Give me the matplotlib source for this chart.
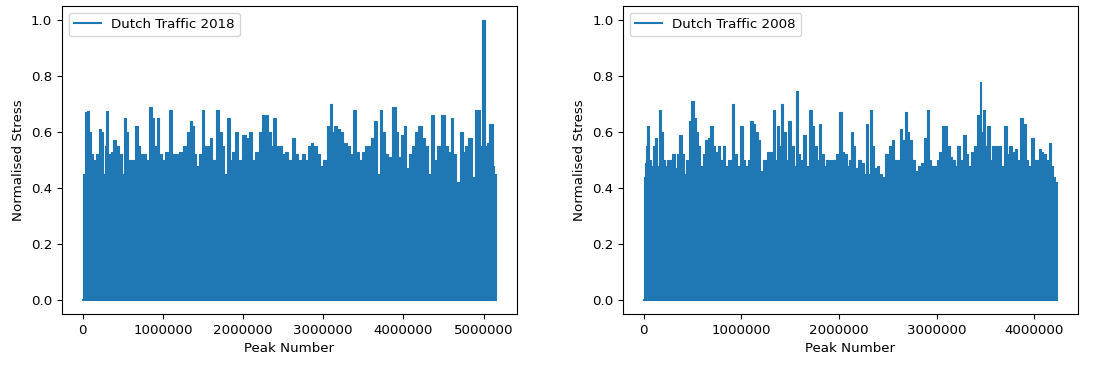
import numpy as np
import matplotlib
matplotlib.use("Agg")
import matplotlib.pyplot as plt

plt.rcParams["font.family"] = ["DejaVu Sans"]
plt.rcParams["font.size"] = 9.6

# Peak-envelope of the normalised stress history, peak number in millions
peaks_2018 = [0.00, 0.017, 0.05, 0.066, 0.091, 0.108, 0.141, 0.182, 0.216, 0.236,
              0.265, 0.286, 0.307, 0.328, 0.369, 0.398, 0.431, 0.464, 0.506, 0.522,
              0.547, 0.576, 0.638, 0.672, 0.701, 0.730, 0.771, 0.804, 0.846, 0.879,
              0.908, 0.937, 0.970, 1.012, 1.053, 1.103, 1.128, 1.177, 1.219, 1.281,
              1.323, 1.352, 1.376, 1.405, 1.434, 1.468, 1.501, 1.530, 1.584, 1.600,
              1.634, 1.683, 1.716, 1.750, 1.779, 1.820, 1.849, 1.882, 1.924, 1.957,
              2.027, 2.056, 2.098, 2.131, 2.172, 2.214, 2.255, 2.297, 2.330, 2.359,
              2.400, 2.421, 2.463, 2.504, 2.546, 2.587, 2.629, 2.670, 2.711, 2.753,
              2.794, 2.836, 2.857, 2.898, 2.940, 2.981, 3.022, 3.064, 3.097, 3.126,
              3.147, 3.188, 3.230, 3.271, 3.313, 3.354, 3.396, 3.425, 3.458, 3.499,
              3.541, 3.582, 3.615, 3.644, 3.686, 3.727, 3.748, 3.789, 3.831, 3.893,
              3.922, 3.955, 3.997, 4.017, 4.046, 4.088, 4.121, 4.163, 4.212, 4.245,
              4.287, 4.328, 4.362, 4.403, 4.444, 4.502, 4.536, 4.577, 4.610, 4.639,
              4.681, 4.722, 4.764, 4.784, 4.834, 4.867, 4.909, 4.938, 4.963, 5.004,
              5.025, 5.054, 5.075, 5.104, 5.124, 5.145, 5.158]
stress_2018 = [0.43, 0.45, 0.67, 0.675, 0.60, 0.52, 0.50, 0.52, 0.61, 0.60,
               0.45, 0.55, 0.675, 0.52, 0.53, 0.57, 0.55, 0.52, 0.45, 0.65,
               0.60, 0.50, 0.50, 0.62, 0.55, 0.52, 0.52, 0.50, 0.69, 0.65,
               0.55, 0.65, 0.52, 0.50, 0.53, 0.68, 0.52, 0.52, 0.53, 0.55,
               0.60, 0.64, 0.62, 0.52, 0.48, 0.52, 0.68, 0.55, 0.55, 0.58,
               0.50, 0.68, 0.60, 0.55, 0.45, 0.65, 0.50, 0.53, 0.60, 0.50,
               0.59, 0.58, 0.60, 0.50, 0.53, 0.60, 0.66, 0.66, 0.60, 0.55,
               0.65, 0.55, 0.55, 0.52, 0.53, 0.50, 0.58, 0.52, 0.50, 0.52,
               0.50, 0.55, 0.56, 0.55, 0.52, 0.48, 0.50, 0.62, 0.70, 0.60,
               0.62, 0.61, 0.60, 0.56, 0.55, 0.52, 0.68, 0.53, 0.50, 0.53,
               0.55, 0.55, 0.58, 0.64, 0.45, 0.68, 0.60, 0.52, 0.51, 0.69,
               0.60, 0.51, 0.59, 0.62, 0.47, 0.52, 0.55, 0.60, 0.62, 0.58,
               0.55, 0.45, 0.66, 0.50, 0.55, 0.66, 0.55, 0.53, 0.65, 0.52,
               0.42, 0.60, 0.53, 0.55, 0.58, 0.44, 0.68, 0.68, 0.55, 1.00,
               0.55, 0.56, 0.63, 0.63, 0.48, 0.45, 0.42]

peaks_2008 = [0.00, 0.005, 0.014, 0.031, 0.044, 0.058, 0.082, 0.099, 0.126, 0.140,
              0.167, 0.184, 0.201, 0.228, 0.252, 0.276, 0.303, 0.330, 0.354, 0.378,
              0.399, 0.422, 0.446, 0.474, 0.501, 0.525, 0.542, 0.566, 0.593, 0.617,
              0.644, 0.671, 0.695, 0.719, 0.746, 0.773, 0.797, 0.821, 0.848, 0.882,
              0.916, 0.937, 0.968, 1.002, 1.026, 1.053, 1.080, 1.104, 1.128, 1.155,
              1.182, 1.206, 1.240, 1.274, 1.308, 1.332, 1.353, 1.376, 1.393, 1.417,
              1.438, 1.468, 1.496, 1.520, 1.547, 1.567, 1.588, 1.615, 1.649, 1.673,
              1.707, 1.734, 1.758, 1.785, 1.809, 1.830, 1.853, 1.887, 1.922, 1.956,
              1.979, 2.017, 2.041, 2.068, 2.092, 2.109, 2.136, 2.153, 2.177, 2.211,
              2.235, 2.269, 2.286, 2.307, 2.330, 2.347, 2.375, 2.399, 2.426, 2.456,
              2.491, 2.525, 2.552, 2.576, 2.603, 2.637, 2.661, 2.688, 2.709, 2.732,
              2.756, 2.790, 2.824, 2.852, 2.886, 2.910, 2.933, 2.954, 2.985, 3.012,
              3.036, 3.070, 3.097, 3.121, 3.148, 3.172, 3.192, 3.220, 3.250, 3.284,
              3.308, 3.335, 3.363, 3.397, 3.421, 3.438, 3.451, 3.465, 3.485, 3.506,
              3.533, 3.557, 3.584, 3.615, 3.642, 3.676, 3.703, 3.727, 3.751, 3.785,
              3.812, 3.840, 3.874, 3.898, 3.921, 3.949, 3.990, 4.010, 4.034, 4.058,
              4.078, 4.102, 4.136, 4.160, 4.180, 4.204, 4.221, 4.235]
stress_2008 = [0.42, 0.44, 0.49, 0.55, 0.62, 0.50, 0.48, 0.55, 0.58, 0.48,
               0.68, 0.60, 0.50, 0.48, 0.50, 0.50, 0.52, 0.47, 0.52, 0.59,
               0.52, 0.45, 0.50, 0.64, 0.71, 0.65, 0.60, 0.55, 0.48, 0.52,
               0.57, 0.58, 0.62, 0.55, 0.53, 0.55, 0.50, 0.55, 0.48, 0.50,
               0.70, 0.52, 0.48, 0.62, 0.50, 0.48, 0.50, 0.64, 0.63, 0.60,
               0.57, 0.46, 0.50, 0.53, 0.53, 0.68, 0.50, 0.62, 0.55, 0.70,
               0.60, 0.50, 0.64, 0.55, 0.48, 0.745, 0.52, 0.50, 0.59, 0.48,
               0.68, 0.62, 0.55, 0.50, 0.63, 0.52, 0.48, 0.50, 0.50, 0.50,
               0.52, 0.67, 0.53, 0.52, 0.48, 0.50, 0.60, 0.55, 0.47, 0.50,
               0.49, 0.45, 0.63, 0.45, 0.68, 0.55, 0.47, 0.48, 0.45, 0.44,
               0.52, 0.55, 0.57, 0.50, 0.50, 0.61, 0.57, 0.67, 0.60, 0.57,
               0.50, 0.46, 0.48, 0.49, 0.58, 0.68, 0.50, 0.48, 0.48, 0.50,
               0.53, 0.62, 0.62, 0.55, 0.51, 0.50, 0.48, 0.55, 0.50, 0.59,
               0.52, 0.48, 0.53, 0.55, 0.66, 0.60, 0.78, 0.60, 0.68, 0.55,
               0.62, 0.50, 0.55, 0.55, 0.55, 0.48, 0.62, 0.52, 0.55, 0.53,
               0.54, 0.50, 0.65, 0.63, 0.50, 0.48, 0.58, 0.50, 0.50, 0.54,
               0.53, 0.52, 0.50, 0.56, 0.48, 0.44, 0.42, 0.40]

panels = [
    ("Dutch Traffic 2018", peaks_2018, stress_2018, [0.0566, 0.1397, 0.4155, 0.8438]),
    ("Dutch Traffic 2008", peaks_2008, stress_2008, [0.5690, 0.1397, 0.4155, 0.8438]),
]

fig = plt.figure(figsize=(10.95, 3.65), dpi=100)
color = "#1f77b4"

for label, peaks, stress, rect in panels:
    ax = fig.add_axes(rect)
    x = np.asarray(peaks) * 1e6
    y = np.asarray(stress)
    # close the envelope down to zero at both ends of the record
    xs = np.r_[x[0], x, x[-1]]
    ys = np.r_[0.0, y, 0.0]
    ax.fill_between(xs, 0, ys, step="mid", color=color, linewidth=0)
    ax.plot(xs, ys, drawstyle="steps-mid", color=color, lw=0.8)
    ax.plot([x[0], x[-1]], [0, 0], color=color, lw=1.5)
    ax.plot([], [], color=color, lw=1.5, label=label)
    ax.set_ylim(-0.05, 1.05)
    ax.set_xlim(-0.05 * x[-1], 1.05 * x[-1])
    ax.set_yticks([0.0, 0.2, 0.4, 0.6, 0.8, 1.0])
    ax.ticklabel_format(axis="x", style="plain", useOffset=False)
    ax.set_xlabel("Peak Number")
    ax.set_ylabel("Normalised Stress")
    ax.legend(loc="upper left")

fig.savefig("out.png", dpi=100)
